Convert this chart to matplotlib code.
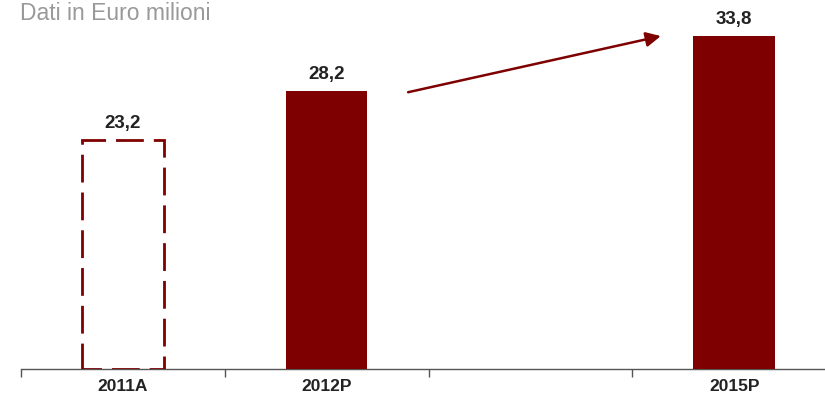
import matplotlib
matplotlib.use("Agg")
import matplotlib.pyplot as plt
from matplotlib.ticker import FixedLocator

categories = ["2011A", "2012P", "", "2015P"]
values = [23.2, 28.2, None, 33.8]
labels = ["23,2", "28,2", "", "33,8"]
dashed = [True, False, False, False]
title = "Dati in Euro milioni"

RED = "#7f0000"

fig = plt.figure(figsize=(8.25, 4.0), dpi=100)
ax = fig.add_axes([21 / 825, 31 / 400, 815 / 825, 369 / 400])
ax.set_xlim(-0.5, len(categories) - 0.5)
ax.set_ylim(0, 369 / 9.85)

for i, (v, lab, d) in enumerate(zip(values, labels, dashed)):
    if v is None:
        continue
    if d:
        ax.bar(i, v, width=0.4, facecolor="none", edgecolor=RED,
               linewidth=2, linestyle=(3, (10, 3.6)), zorder=3)
    else:
        ax.bar(i, v, width=0.4, color=RED, zorder=3)
    ax.annotate(lab, (i, v), xytext=(0, 6), textcoords="offset points",
                ha="center", va="bottom", fontsize=13.5, fontweight="bold",
                family="Liberation Sans", color="#222222")

# growth arrow
ax.annotate("", xy=(2.64, 33.8), xytext=(1.40, 28.1),
            arrowprops=dict(arrowstyle="-|>", color=RED, lw=1.8,
                            mutation_scale=22, shrinkA=0, shrinkB=0))

for s in ["top", "right", "left"]:
    ax.spines[s].set_visible(False)
ax.spines["bottom"].set_color("#555555")
ax.spines["bottom"].set_linewidth(1.0)
ax.set_yticks([])

ax.xaxis.set_major_locator(FixedLocator(range(len(categories))))
ax.set_xticklabels(categories, fontsize=12.5, fontweight="bold",
                   family="Liberation Sans", color="#222222")
ax.tick_params(axis="x", which="major", length=0, pad=7)
ax.xaxis.set_minor_locator(FixedLocator([-0.5, 0.5, 1.5, 2.5, 3.5]))
ax.tick_params(axis="x", which="minor", length=6, width=1, color="#555555")

fig.text(20 / 825, 1 - 2 / 400, title, fontsize=16.5, color="#999999",
         family="Liberation Sans", ha="left", va="top")

fig.savefig("out.png", dpi=100)
